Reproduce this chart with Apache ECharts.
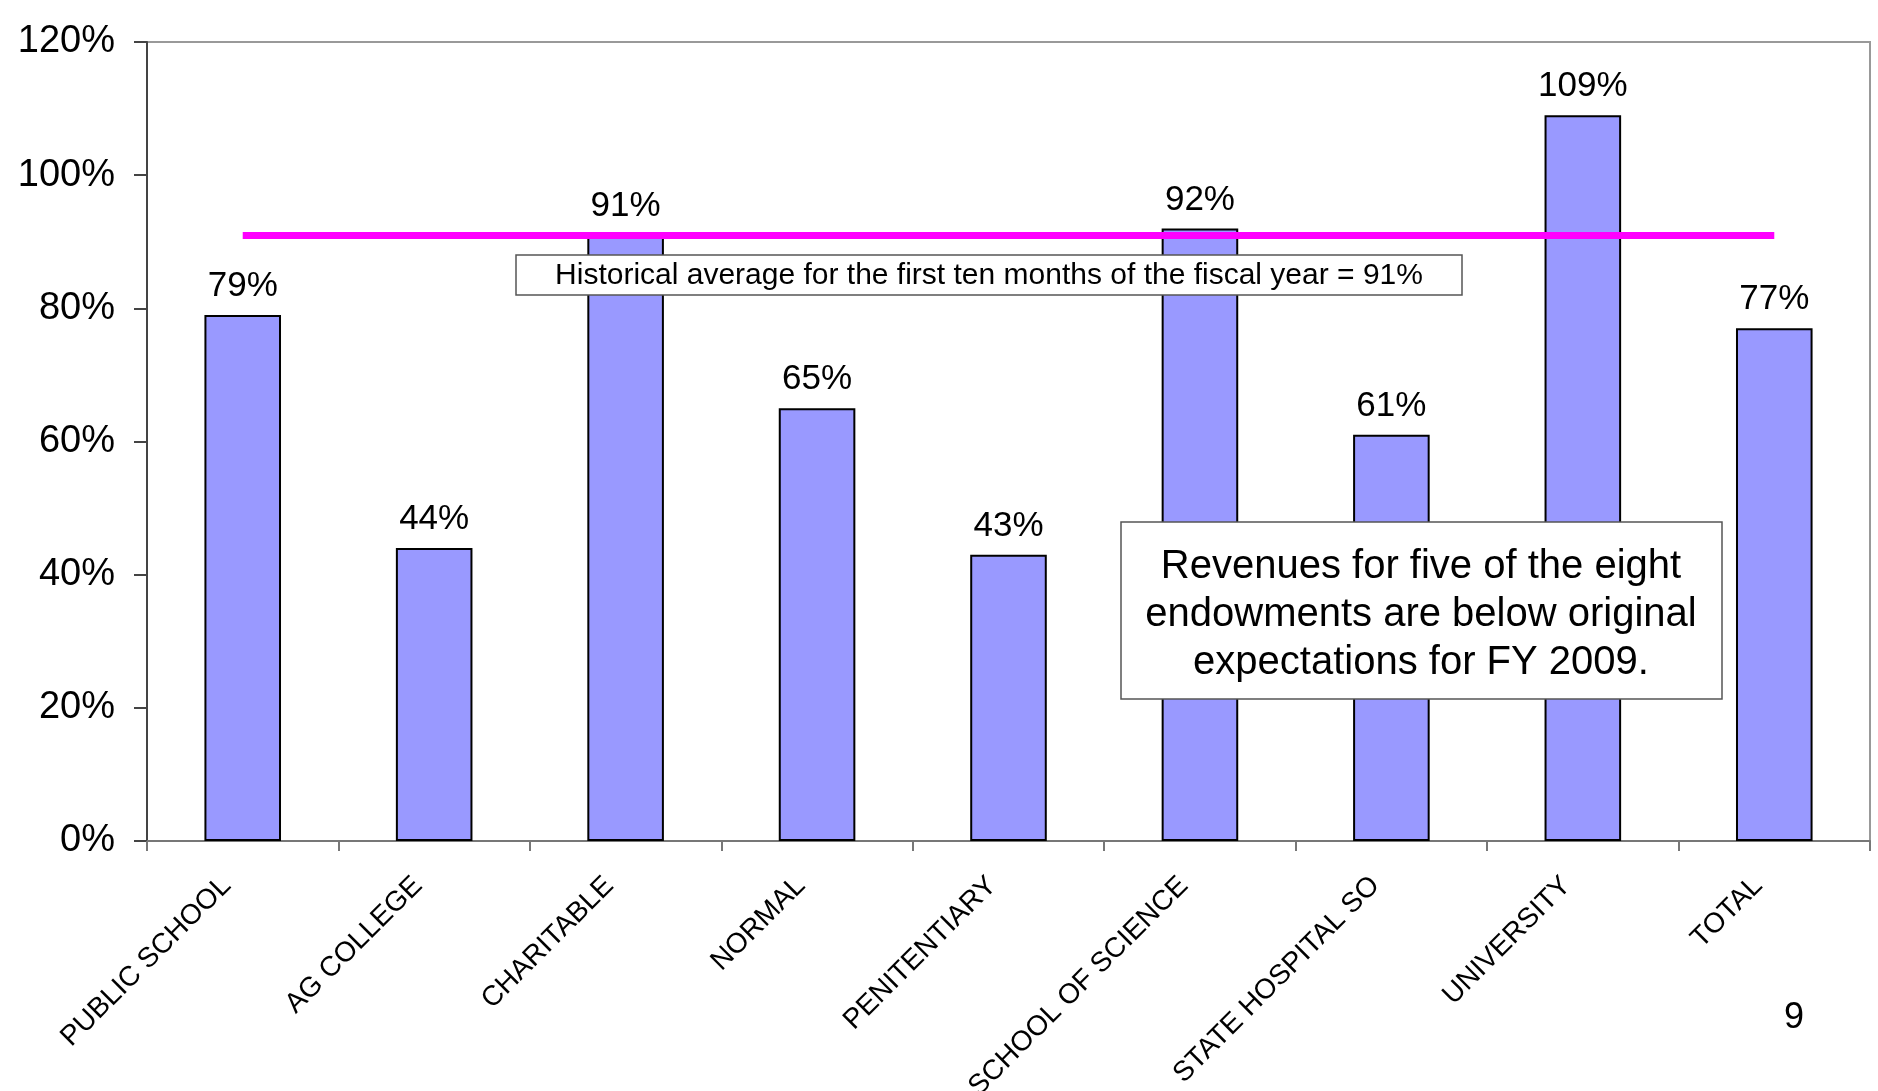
<!DOCTYPE html>
<html>
<head>
<meta charset="utf-8">
<title>Endowment revenues</title>
<script src="https://cdn.jsdelivr.net/npm/echarts@6/dist/echarts.min.js"></script>
<style>
  html, body { margin: 0; padding: 0; background: #fff; }
  #main { width: 1878px; height: 1091px; }
</style>
</head>
<body>
<div id="main"></div>
<script>
// 数据
const categories = ['PUBLIC SCHOOL', 'AG COLLEGE', 'CHARITABLE', 'NORMAL', 'PENITENTIARY',
  'SCHOOL OF SCIENCE', 'STATE HOSPITAL SO', 'UNIVERSITY', 'TOTAL']
const values = [79, 44, 91, 65, 43, 92, 61, 109, 77]
const historicalAvg = 91
const yTicks = [0, 20, 40, 60, 80, 100, 120]

const avgNote = 'Historical average for the first ten months of the fiscal year = 91%'
const mainNote = 'Revenues for five of the eight\nendowments are below original\nexpectations for FY 2009.'
const pageNumber = '9'

const font = '"Liberation Sans", Arial, sans-serif'

const chartInstance = echarts.init(document.getElementById('main'))

const initOption = {
  animation: false,
  textStyle: { fontFamily: font },
  grid: {
    left: 147,
    right: 8,
    top: 42,
    bottom: 250,
    outerBoundsMode: 'none',
    containLabel: false,
    show: true,
    borderColor: '#999',
    borderWidth: 2
  },
  xAxis: {
    type: 'category',
    data: categories,
    axisLine: { lineStyle: { color: '#777', width: 2 } },
    axisTick: { show: true, length: 10, lineStyle: { color: '#777', width: 2 } },
    axisLabel: {
      interval: 0,
      rotate: 45,
      margin: 24,
      padding: [0, 23, 0, 0],
      fontSize: 28,
      color: '#000',
      fontFamily: font
    }
  },
  yAxis: {
    type: 'value',
    min: yTicks[0],
    max: yTicks[yTicks.length - 1],
    interval: 20,
    splitLine: { show: false },
    axisLine: { show: true, lineStyle: { color: '#444', width: 2 } },
    axisTick: { show: true, length: 13, lineStyle: { color: '#444', width: 2 } },
    axisLabel: {
      formatter: '{value}%',
      margin: 32,
      fontSize: 38,
      color: '#000',
      fontFamily: font
    }
  },
  series: [
    {
      type: 'bar',
      data: values,
      barWidth: '40%',
      itemStyle: {
        color: '#9999FF',
        borderColor: '#000',
        borderWidth: 2
      },
      label: {
        show: true,
        position: 'top',
        distance: 11,
        formatter: '{c}%',
        fontSize: 35,
        color: '#000',
        fontFamily: font
      },
      markLine: {
        silent: true,
        symbol: 'none',
        label: { show: false },
        lineStyle: { color: '#FF00FF', width: 7, type: 'solid' },
        data: [
          [
            { coord: [0, historicalAvg] },
            { coord: [categories.length - 1, historicalAvg] }
          ]
        ]
      }
    }
  ],
  graphic: [
    // 历史平均说明框
    {
      type: 'rect',
      z: 100,
      shape: { x: 516, y: 255, width: 946, height: 40 },
      style: { fill: '#fff', stroke: '#555', lineWidth: 1.5 }
    },
    {
      type: 'text',
      z: 101,
      x: 989,
      y: 276,
      style: {
        text: avgNote,
        fontSize: 30,
        fontFamily: font,
        fill: '#000',
        align: 'center',
        verticalAlign: 'middle'
      }
    },
    // 主说明框
    {
      type: 'rect',
      z: 100,
      shape: { x: 1121, y: 522, width: 601, height: 177 },
      style: { fill: '#fff', stroke: '#555', lineWidth: 1.5 }
    },
    {
      type: 'text',
      z: 101,
      x: 1421,
      y: 615,
      style: {
        text: mainNote,
        fontSize: 40,
        lineHeight: 48,
        fontFamily: font,
        fill: '#000',
        align: 'center',
        verticalAlign: 'middle'
      }
    },
    {
      type: 'text',
      z: 101,
      left: 1784,
      top: 1000,
      style: {
        text: pageNumber,
        fontSize: 36,
        fontFamily: font,
        fill: '#000'
      }
    }
  ]
}

chartInstance.setOption(initOption)
</script>
</body>
</html>
